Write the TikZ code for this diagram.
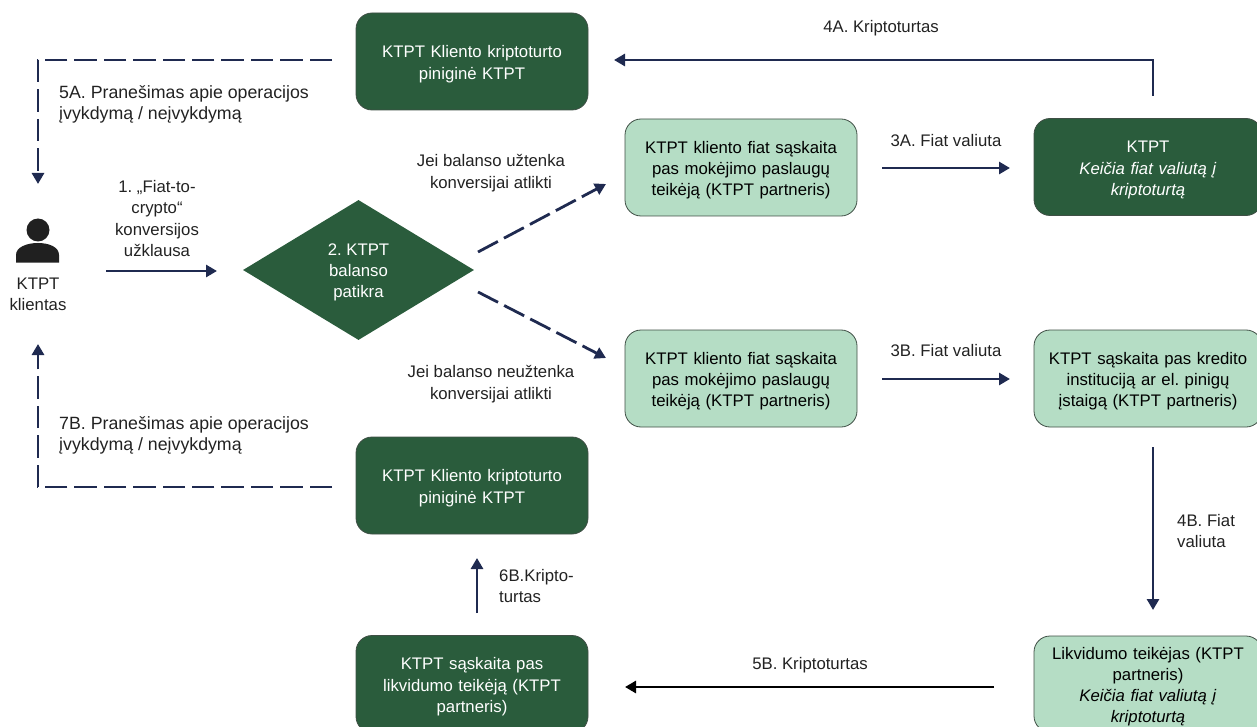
\documentclass[tikz,border=0pt]{standalone}
\usepackage{fontspec}
\setmainfont{Liberation Sans}
\frenchspacing
\usetikzlibrary{arrows.meta,shapes.geometric}
\definecolor{dkgreen}{HTML}{2A5C3C}
\definecolor{ltgreen}{HTML}{B5DDC5}
\definecolor{navy}{HTML}{1F2A50}
\definecolor{edgegray}{HTML}{3F4F45}
\definecolor{txt}{HTML}{222222}
\tikzset{
  x=1pt,y=-1pt,
  every node/.style={font=\fontsize{16.75}{21.3}\selectfont,text=txt,align=center,inner sep=0pt},
  dkbox/.style={rectangle,rounded corners=16pt,draw=edgegray,line width=0.8pt,fill=dkgreen,text=white,minimum height=97pt,text width=215pt,execute at begin node={\rule{0pt}{17.5pt}}},
  ltbox/.style={rectangle,rounded corners=16pt,draw=edgegray,line width=0.8pt,fill=ltgreen,text=black,minimum height=97pt,text width=215pt,execute at begin node={\rule{0pt}{17.5pt}}},
  solidarrow/.style={draw=navy,line width=2.8pt,-{Triangle[length=11pt,width=12pt]}},
  dasharrow/.style={draw=navy,line width=2.8pt,dash pattern=on 22.5pt off 6.9pt,-{Triangle[length=11pt,width=12pt]}},
  widelabel/.style={font=\fontsize{17.75}{21}\selectfont,align=left,anchor=west},
}
\begin{document}
\begin{tikzpicture}
\useasboundingbox (0,0) rectangle (1257,727);
% boxes
\node[dkbox,minimum width=232pt] (walletA) at (472,61.5) {KTPT Kliento kriptoturto\\piniginė KTPT};
\node[dkbox,minimum width=232pt] (walletB) at (472,485.5) {KTPT Kliento kriptoturto\\piniginė KTPT};
\node[dkbox,minimum width=232pt] (liqacc) at (472,684) {KTPT sąskaita pas\\likvidumo teikėją (KTPT\\partneris)};
\node[ltbox,minimum width=232pt] (fiatA) at (741,167.5) {KTPT kliento fiat sąskaita\\pas mokėjimo paslaugų\\teikėją (KTPT partneris)};
\node[ltbox,minimum width=232pt] (fiatB) at (741,378.5) {KTPT kliento fiat sąskaita\\pas mokėjimo paslaugų\\teikėją (KTPT partneris)};
\node[dkbox,minimum width=228pt,text width=215pt] (ktpt) at (1148,167) {KTPT\\\textit{Keičia fiat valiutą į}\\\textit{kriptoturtą}};
\node[ltbox,minimum width=228pt,text width=215pt] (bank) at (1148,378.5) {KTPT sąskaita pas kredito\\instituciją ar el. pinigų\\įstaigą (KTPT partneris)};
\node[ltbox,minimum width=228pt,text width=215pt,minimum height=96pt] (liq) at (1148,684) {Likvidumo teikėjas (KTPT\\partneris)\\\textit{Keičia fiat valiutą į}\\\textit{kriptoturtą}};
\node[diamond,aspect=1.65,fill=dkgreen,minimum width=231pt,minimum height=140pt,text=white] (check) at (358.5,270) {};
\node[text=white] (checklbl) at (358.5,272.5) {2. KTPT\\balanso\\patikra};
% person
\fill[txt!95!black] (38,230) circle (11.5);
\fill[txt!95!black] (16,262.5) -- (16,255) .. controls (16,247) and (27,243) .. (38,243) .. controls (49,243) and (59,247) .. (59,255) -- (59,262.5) -- cycle;
\node (client) at (38,294) {KTPT\\klientas};
% free ends
\coordinate (a4s) at (1153,96);
\coordinate (a4c) at (1153,60);
\coordinate (a4e) at (614,60);
\coordinate (a5s) at (332,60);
\coordinate (a5c) at (38,60);
\coordinate (a5e) at (38,184);
\coordinate (b7s) at (332,487);
\coordinate (b7c) at (38,487);
\coordinate (b7e) at (38,344);
\coordinate (r1s) at (106,271);
\coordinate (r1e) at (217,271);
\coordinate (dAs) at (478,252);
\coordinate (dAe) at (606,184);
\coordinate (dBs) at (478,292);
\coordinate (dBe) at (606,358);
\coordinate (a3s) at (882,168);
\coordinate (a3e) at (1010,168);
\coordinate (b3s) at (882,379);
\coordinate (b3e) at (1010,379);
\coordinate (b4s) at (1153,447);
\coordinate (b4e) at (1153,610);
\coordinate (b5s) at (994,687);
\coordinate (b5e) at (625,687);
\coordinate (b6s) at (477,613);
\coordinate (b6e) at (477,558);
% connectors
\draw[solidarrow] (a4s) -- (a4c) -- (a4e);
\draw[dasharrow] (a5s) -- (a5c) -- (a5e);
\draw[dasharrow] (b7s) -- (b7c) -- (b7e);
\draw[solidarrow] (r1s) -- (r1e);
\draw[dasharrow] (dAs) -- (dAe);
\draw[dasharrow] (dBs) -- (dBe);
\draw[solidarrow] (a3s) -- (a3e);
\draw[solidarrow] (b3s) -- (b3e);
\draw[solidarrow] (b4s) -- (b4e);
\draw[solidarrow,draw=black] (b5s) -- (b5e);
\draw[solidarrow] (b6s) -- (b6e);
% labels
\node (l4a) at (881,28) {4A. Kriptoturtas};
\node[widelabel] (l5a) at (59,104) {5A. Pranešimas apie operacijos\\įvykdymą / neįvykdymą};
\node (l1) at (157,218.5) {1. „Fiat-to-\\crypto“\\konversijos\\užklausa};
\node (lok) at (491,173) {Jei balanso užtenka\\konversijai atlikti};
\node (lno) at (491,384) {Jei balanso neužtenka\\konversijai atlikti};
\node (l3a) at (946,141) {3A. Fiat valiuta};
\node (l3b) at (946,351) {3B. Fiat valiuta};
\node[widelabel] (l7b) at (59,435) {7B. Pranešimas apie operacijos\\įvykdymą / neįvykdymą};
\node[align=left,anchor=west] (l4b) at (1177,531) {4B. Fiat\\valiuta};
\node[align=left,anchor=west] (l6b) at (499,586) {6B.Kripto-\\turtas};
\node (l5b) at (810,665) {5B. Kriptoturtas};
\end{tikzpicture}
\end{document}
